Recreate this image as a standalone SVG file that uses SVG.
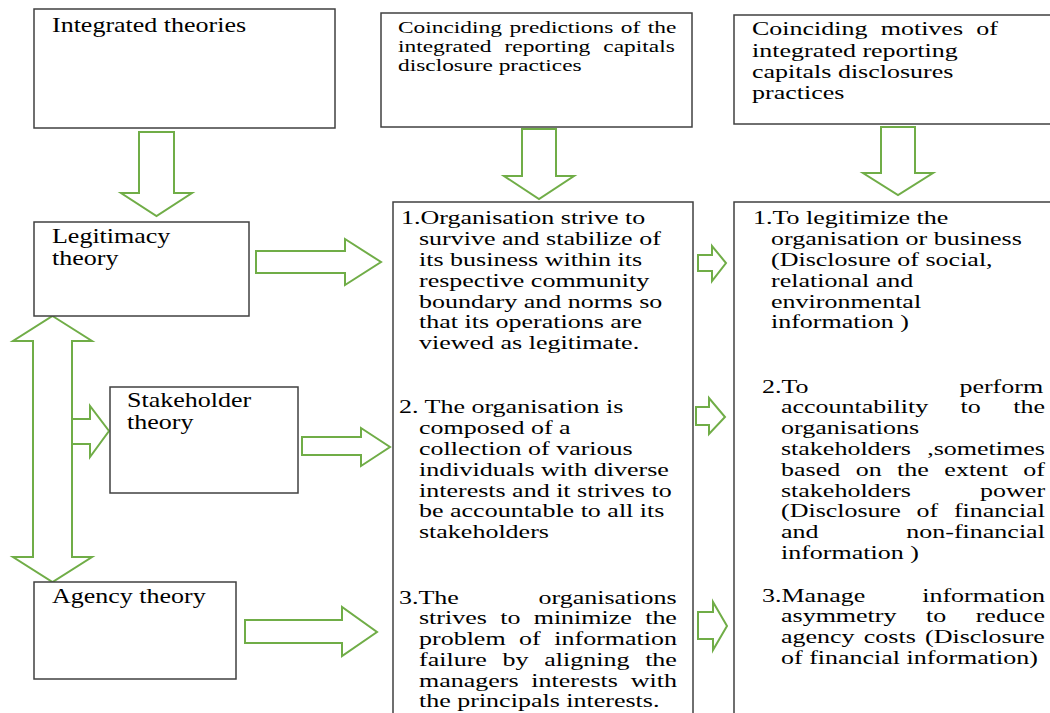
<svg xmlns="http://www.w3.org/2000/svg" width="1050" height="713" viewBox="0 0 1050 713">
<style>
.box{fill:#fff;stroke:#404040;stroke-width:1.5}
.arr{fill:#fff;stroke:#70AD47;stroke-width:2;stroke-linejoin:miter}
text{font-family:"Liberation Serif","Times New Roman",serif;fill:#000}
.t20{font-size:20px}
.t19{font-size:19px}
.t17{font-size:17px}
</style>
<rect width="1050" height="713" fill="#fff"/>
<g id="connectors">
  <polygon class="arr" points="139,132 174,132 174,193 192,193 156.5,216 121,193 139,193"/>
  <polygon class="arr" points="522,129 556,129 556,176 574,176 539,199 504,176 522,176"/>
  <polygon class="arr" points="881,127 915,127 915,173 933,173 898,195 863,173 881,173"/>
  <polygon class="arr" points="256,251 345,251 345,239 381,262 345,285 345,273 256,273"/>
  <polygon class="arr" points="302,437 361,437 361,428 390,447 361,466 361,455 302,455"/>
  <polygon class="arr" points="245,620 342,620 342,607 377,632 342,656 342,643 245,643"/>
  <polyline class="arr" points="72,419 90,419 90,406 109,431 90,457 90,444 72,444"/>
  <polygon class="arr" points="52.5,316 92,341 72,341 72,557 92,557 52.5,582 13,557 33,557 33,341 13,341"/>
  <polygon class="arr" points="698,255 712,255 712,246 726,263 712,281 712,271 698,271"/>
  <polygon class="arr" points="696,407 709,407 709,398 725,417 709,434 709,425 696,425"/>
  <polygon class="arr" points="698,612 713,612 713,602 727,626 713,650 713,639 698,639"/>
</g>
<g id="integrated-theories">
  <rect class="box" x="34" y="9" width="301" height="119"/>
  <text class="t20" transform="scale(1.3,1)" x="40" y="32">Integrated theories</text>
</g>
<g id="coinciding-predictions">
  <rect class="box" x="381" y="13" width="311" height="114"/>
  <text class="t17" transform="scale(1.376,1)">
    <tspan x="289.24" y="33" style="word-spacing:1.2px">Coinciding predictions of the</tspan>
    <tspan x="289.24" y="52" style="word-spacing:5.27px">integrated reporting capitals</tspan>
    <tspan x="289.24" y="71">disclosure practices</tspan>
  </text>
</g>
<g id="coinciding-motives">
  <rect class="box" x="734" y="15" width="325" height="109"/>
  <text class="t19" transform="scale(1.3684,1)">
    <tspan x="549.55" y="35" style="word-spacing:4.89px">Coinciding motives of</tspan>
    <tspan x="549.55" y="57">integrated reporting</tspan>
    <tspan x="549.55" y="78">capitals disclosures</tspan>
    <tspan x="549.55" y="99">practices</tspan>
  </text>
</g>
<g id="legitimacy-theory">
  <rect class="box" x="34" y="222" width="215" height="94"/>
  <text class="t20" transform="scale(1.3,1)">
    <tspan x="40" y="243">Legitimacy</tspan>
    <tspan x="40" y="265">theory</tspan>
  </text>
</g>
<g id="stakeholder-theory">
  <rect class="box" x="110" y="387" width="188" height="106"/>
  <text class="t20" transform="scale(1.3,1)">
    <tspan x="97.69" y="407">Stakeholder</tspan>
    <tspan x="97.69" y="429">theory</tspan>
  </text>
</g>
<g id="agency-theory">
  <rect class="box" x="34" y="582" width="202" height="97"/>
  <text class="t20" transform="scale(1.3,1)" x="40" y="603">Agency theory</text>
</g>
<g id="predictions-list">
  <rect class="box" x="393" y="202" width="300" height="530"/>
  <text class="t19" transform="scale(1.3684,1)">
    <tspan x="293.05" y="224">1.Organisation strive to</tspan>
    <tspan x="306.2" y="245">survive and stabilize of</tspan>
    <tspan x="306.2" y="266">its business within its</tspan>
    <tspan x="306.2" y="287">respective community</tspan>
    <tspan x="306.2" y="308">boundary and norms so</tspan>
    <tspan x="306.2" y="328">that its operations are</tspan>
    <tspan x="306.2" y="349">viewed as legitimate.</tspan>
  </text>
  <text class="t19" transform="scale(1.3684,1)">
    <tspan x="291.58" y="413">2. The organisation is</tspan>
    <tspan x="306.2" y="434">composed of a</tspan>
    <tspan x="306.2" y="455">collection of various</tspan>
    <tspan x="306.2" y="476">individuals with diverse</tspan>
    <tspan x="306.2" y="497">interests and it strives to</tspan>
    <tspan x="306.2" y="517">be accountable  to all its</tspan>
    <tspan x="306.2" y="538">stakeholders</tspan>
  </text>
  <text class="t19" transform="scale(1.3684,1)">
    <tspan x="291.58" y="604" style="word-spacing:53.4px">3.The organisations</tspan>
    <tspan x="306.2" y="624" style="word-spacing:4.97px">strives to minimize the</tspan>
    <tspan x="306.2" y="645" style="word-spacing:5.11px">problem of information</tspan>
    <tspan x="306.2" y="666" style="word-spacing:6.73px">failure by aligning the</tspan>
    <tspan x="306.2" y="687" style="word-spacing:4.56px">managers interests with</tspan>
    <tspan x="306.2" y="707">the principals interests.</tspan>
  </text>
</g>
<g id="motives-list">
  <rect class="box" x="734" y="202" width="325" height="530"/>
  <text class="t19" transform="scale(1.3684,1)">
    <tspan x="550.28" y="224">1.To legitimize the</tspan>
    <tspan x="563.43" y="245">organisation or business</tspan>
    <tspan x="563.43" y="266">(Disclosure of social,</tspan>
    <tspan x="563.43" y="287">relational and</tspan>
    <tspan x="563.43" y="308">environmental</tspan>
    <tspan x="563.43" y="328">information )</tspan>
  </text>
  <text class="t19" transform="scale(1.3684,1)">
    <tspan x="556.86" y="393" style="word-spacing:105.5px">2.To perform</tspan>
    <tspan x="570.74" y="413" style="word-spacing:18.9px">accountability to the</tspan>
    <tspan x="570.74" y="434">organisations</tspan>
    <tspan x="570.74" y="455" style="word-spacing:7.13px">stakeholders ,sometimes</tspan>
    <tspan x="570.74" y="476" style="word-spacing:6.56px">based on the extent of</tspan>
    <tspan x="570.74" y="497" style="word-spacing:45.8px">stakeholders power</tspan>
    <tspan x="570.74" y="517" style="word-spacing:6.75px">(Disclosure of financial</tspan>
    <tspan x="570.74" y="538" style="word-spacing:59.4px">and non-financial</tspan>
    <tspan x="570.74" y="559">information )</tspan>
  </text>
  <text class="t19" transform="scale(1.3684,1)">
    <tspan x="556.86" y="602" style="word-spacing:36.9px">3.Manage information</tspan>
    <tspan x="570.74" y="622" style="word-spacing:16.8px">asymmetry to reduce</tspan>
    <tspan x="570.74" y="643" style="word-spacing:2px">agency costs (Disclosure</tspan>
    <tspan x="570.74" y="664">of financial information)</tspan>
  </text>
</g>
</svg>
